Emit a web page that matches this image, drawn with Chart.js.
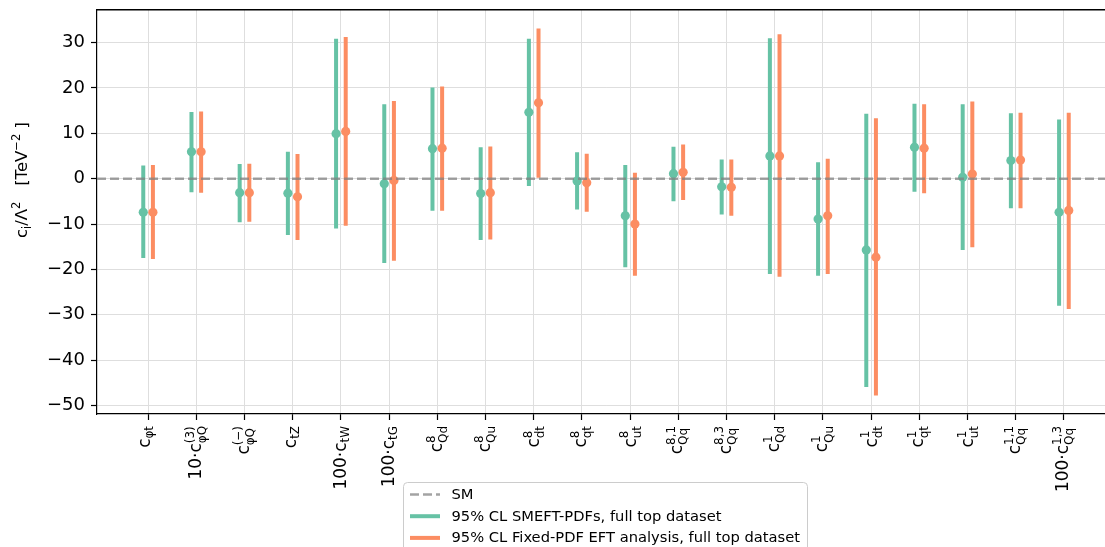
<!DOCTYPE html>
<html>
<head>
<meta charset="utf-8">
<script src="https://cdn.jsdelivr.net/npm/chart.js@4.4.1/dist/chart.umd.min.js"></script>
<style>
  html, body { margin: 0; padding: 0; background: #fff; overflow: hidden; }
  #wrap { width: 1130px; height: 570px; }
</style>
</head>
<body>
<div id="wrap"><canvas id="c" width="1130" height="570"></canvas></div>
<script>
// --- data ---
// coefficient label = prefix + superscript/subscript
var coeffPrefix = ['c', '10·c', 'c', 'c', '100·c', '100·c', 'c', 'c', 'c', 'c', 'c', 'c', 'c', 'c', 'c', 'c', 'c', 'c', 'c', '100·c'];
var coeffSup = ['', '(3)', '(−)', '', '', '', '8', '8', '8', '8', '8', '8,1', '8,3', '1', '1', '1', '1', '1', '1,1', '1,3'];
var coeffSub = ['φt', 'φQ', 'φQ', 'tZ', 'tW', 'tG', 'Qd', 'Qu', 'dt', 'qt', 'ut', 'Qq', 'Qq', 'Qd', 'Qu', 'dt', 'qt', 'ut', 'Qq', 'Qq'];

var smeftBest = [-7.4, 5.9, -3.1, -3.2, 9.9, -1.1, 6.6, -3.3, 14.6, -0.5, -8.2, 1.1, -1.8, 5.0, -8.9, -15.7, 6.9, 0.3, 4.0, -7.4];
var smeftLow  = [-17.5, -3.0, -9.6, -12.4, -11.0, -18.6, -7.1, -13.5, -1.6, -6.8, -19.5, -5.0, -7.9, -21.0, -21.4, -45.9, -2.9, -15.7, -6.5, -28.0];
var smeftHigh = [2.9, 14.7, 3.2, 5.9, 30.8, 16.4, 20.1, 6.9, 30.8, 5.8, 3.0, 7.0, 4.2, 30.9, 3.6, 14.3, 16.5, 16.4, 14.4, 13.0];

var fixedBest = [-7.4, 5.9, -3.1, -4.0, 10.4, -0.4, 6.7, -3.1, 16.7, -0.9, -10.0, 1.4, -1.9, 5.0, -8.2, -17.3, 6.7, 1.0, 4.1, -7.0];
var fixedLow  = [-17.7, -3.1, -9.5, -13.5, -10.4, -18.1, -7.1, -13.4, 0.2, -7.3, -21.4, -4.7, -8.2, -21.6, -21.0, -47.8, -3.2, -15.1, -6.5, -28.7];
var fixedHigh = [3.0, 14.8, 3.3, 5.4, 31.2, 17.1, 20.3, 7.1, 33.1, 5.5, 1.3, 7.5, 4.2, 31.8, 4.4, 13.3, 16.4, 17.0, 14.5, 14.5];

var smValue = 0;
var yTickValues = [-50, -40, -30, -20, -10, 0, 10, 20, 30];

var GREEN = '#66c2a5';
var ORANGE = '#fc8d62';
var FONT = "'DejaVu Sans'";

// --- helpers ---
function barData(lo, hi, shift) {
    var pts = [];
    for (var i = 0; i < lo.length; i++) {
        pts.push({ x: i + shift, y: lo[i] });
        pts.push({ x: i + shift, y: hi[i] });
        pts.push({ x: i + shift, y: null });
    }
    return pts;
}
function pointData(vals, shift) {
    return vals.map(function(v, i) { return { x: i + shift, y: v }; });
}

// rich text: segments {t} normal, or {sup, sub} scripts
function richMeasure(ctx, segs, fs) {
    var w = 0, asc = 0, desc = 0, sfs = fs * 0.7;
    segs.forEach(function(s) {
        if (s.t) {
            ctx.font = fs + 'px ' + FONT;
            var m = ctx.measureText(s.t);
            s._w = m.width; w += m.width;
            asc = Math.max(asc, m.actualBoundingBoxAscent);
            desc = Math.max(desc, m.actualBoundingBoxDescent);
        } else {
            ctx.font = sfs + 'px ' + FONT;
            var ws = 0;
            s._rise = fs * 0.42;
            s._drop = s.sup ? fs * 0.3 : fs * 0.2;
            if (s.sup) {
                var m1 = ctx.measureText(s.sup);
                ws = Math.max(ws, m1.width);
                asc = Math.max(asc, s._rise + m1.actualBoundingBoxAscent);
            }
            if (s.sub) {
                var m2 = ctx.measureText(s.sub);
                ws = Math.max(ws, m2.width);
                desc = Math.max(desc, s._drop + m2.actualBoundingBoxDescent);
            }
            s._w = ws; w += ws;
        }
    });
    return { w: w, asc: asc, desc: desc };
}
function richDraw(ctx, segs, fs, x, y) {
    var sfs = fs * 0.7;
    ctx.textAlign = 'left';
    ctx.textBaseline = 'alphabetic';
    segs.forEach(function(s) {
        if (s.t) {
            ctx.font = fs + 'px ' + FONT;
            ctx.fillText(s.t, x, y);
        } else {
            ctx.font = sfs + 'px ' + FONT;
            if (s.sup) ctx.fillText(s.sup, x, y - s._rise);
            if (s.sub) ctx.fillText(s.sub, x, y + s._drop);
        }
        x += s._w;
    });
}

var decorPlugin = {
    id: 'decor',
    afterDraw: function(chart) {
        var ctx = chart.ctx, area = chart.chartArea, xs = chart.scales.x;
        ctx.save();
        // top spine
        ctx.strokeStyle = '#000'; ctx.lineWidth = 1.4;
        var ty = Math.round(area.top) - 0.3;
        ctx.beginPath(); ctx.moveTo(area.left, ty); ctx.lineTo(area.right, ty); ctx.stroke();
        ctx.fillStyle = '#000';

        // x tick labels, rotated
        for (var i = 0; i < coeffPrefix.length; i++) {
            var segs = [{ t: coeffPrefix[i] }, { sup: coeffSup[i], sub: coeffSub[i] }];
            var m = richMeasure(ctx, segs, 17);
            ctx.save();
            ctx.translate(xs.getPixelForValue(i), area.bottom + 12);
            ctx.rotate(-Math.PI / 2);
            richDraw(ctx, segs, 17, -m.w, (m.asc - m.desc) / 2);
            ctx.restore();
        }

        // y axis title
        var ySegs = [{ t: 'c' }, { sub: 'i' }, { t: '/Λ' }, { sup: '2' }, { t: '   [TeV' }, { sup: '−2' }, { t: ' ]' }];
        var ym = richMeasure(ctx, ySegs, 16.5);
        ctx.save();
        ctx.translate(21, 180);
        ctx.rotate(-Math.PI / 2);
        richDraw(ctx, ySegs, 16.5, -ym.w / 2, (ym.asc - ym.desc) / 2);
        ctx.restore();

        // legend box
        var lx = 403.5, ly = 482.5, lw = 404, lh = 90, r = 4;
        ctx.beginPath();
        ctx.moveTo(lx + r, ly); ctx.lineTo(lx + lw - r, ly); ctx.arcTo(lx + lw, ly, lx + lw, ly + r, r);
        ctx.lineTo(lx + lw, ly + lh); ctx.lineTo(lx, ly + lh); ctx.lineTo(lx, ly + r); ctx.arcTo(lx, ly, lx + r, ly, r);
        ctx.closePath();
        ctx.fillStyle = 'rgba(255,255,255,0.85)'; ctx.fill();
        ctx.strokeStyle = '#cccccc'; ctx.lineWidth = 1; ctx.stroke();

        var entries = chart.data.datasets.filter(function(d) { return d.legendLine; });
        entries.forEach(function(d, k) {
            var yy = 494.5 + k * 21.7;
            ctx.save();
            ctx.strokeStyle = d.borderColor; ctx.lineWidth = d.borderWidth;
            ctx.setLineDash(d.borderDash || []);
            ctx.beginPath(); ctx.moveTo(410, yy); ctx.lineTo(440, yy); ctx.stroke();
            ctx.restore();
            ctx.fillStyle = '#000';
            ctx.font = '14.7px ' + FONT;
            ctx.textAlign = 'left'; ctx.textBaseline = 'middle';
            ctx.fillText(d.label, 451.5, yy + 0.5);
        });
        ctx.restore();
    }
};

new Chart(document.getElementById('c'), {
    type: 'scatter',
    data: {
        datasets: [
            { label: 'SM', legendLine: true, showLine: true, order: 0,
              data: [{ x: -1.06, y: smValue }, { x: 20.06, y: smValue }],
              borderColor: 'rgba(128,128,128,0.72)', borderWidth: 2.5, borderDash: [9, 4], pointRadius: 0 },
            { label: '95% CL SMEFT-PDFs, full top dataset', legendLine: true, showLine: true, spanGaps: false, order: 2,
              data: barData(smeftLow, smeftHigh, -0.1),
              borderColor: GREEN, borderWidth: 4, borderCapStyle: 'butt', pointRadius: 0 },
            { label: '95% CL Fixed-PDF EFT analysis, full top dataset', legendLine: true, showLine: true, spanGaps: false, order: 2,
              data: barData(fixedLow, fixedHigh, 0.1),
              borderColor: ORANGE, borderWidth: 4, borderCapStyle: 'butt', pointRadius: 0 },
            { label: 'smeft best', order: 1, data: pointData(smeftBest, -0.1),
              backgroundColor: GREEN, borderWidth: 0, pointRadius: 4.6 },
            { label: 'fixed best', order: 1, data: pointData(fixedBest, 0.1),
              backgroundColor: ORANGE, borderWidth: 0, pointRadius: 4.6 }
        ]
    },
    options: {
        responsive: false,
        animation: false,
        devicePixelRatio: 1,
        layout: { padding: { top: 10, right: 15, left: 0, bottom: 0 } },
        plugins: { legend: { display: false }, tooltip: { enabled: false } },
        scales: {
            x: {
                type: 'linear', min: -1.06, max: 20.06,
                afterBuildTicks: function(s) { s.ticks = coeffSub.map(function(c, i) { return { value: i }; }); },
                afterFit: function(s) { s.height = 156; s.paddingLeft = 0; s.paddingRight = 0; },
                ticks: { callback: function() { return ''; } },
                grid: { color: '#dedede', lineWidth: 1, tickColor: '#000', tickLength: 6, tickWidth: 1.2 },
                border: { color: '#000', width: 1.2 }
            },
            y: {
                min: -51.85, max: 37.15,
                afterBuildTicks: function(s) { s.ticks = yTickValues.map(function(v) { return { value: v }; }); },
                afterFit: function(s) { s.width = 97; s.paddingTop = 0; s.paddingBottom = 0; },
                ticks: {
                    color: '#000', padding: 6,
                    font: { family: 'DejaVu Sans', size: 18 },
                    callback: function(v) { return v < 0 ? '−' + Math.abs(v) : String(v); }
                },
                grid: { color: '#dedede', lineWidth: 1, tickColor: '#000', tickLength: 6, tickWidth: 1.2 },
                border: { color: '#000', width: 1.2 }
            }
        }
    },
    plugins: [decorPlugin]
});
</script>
</body>
</html>
